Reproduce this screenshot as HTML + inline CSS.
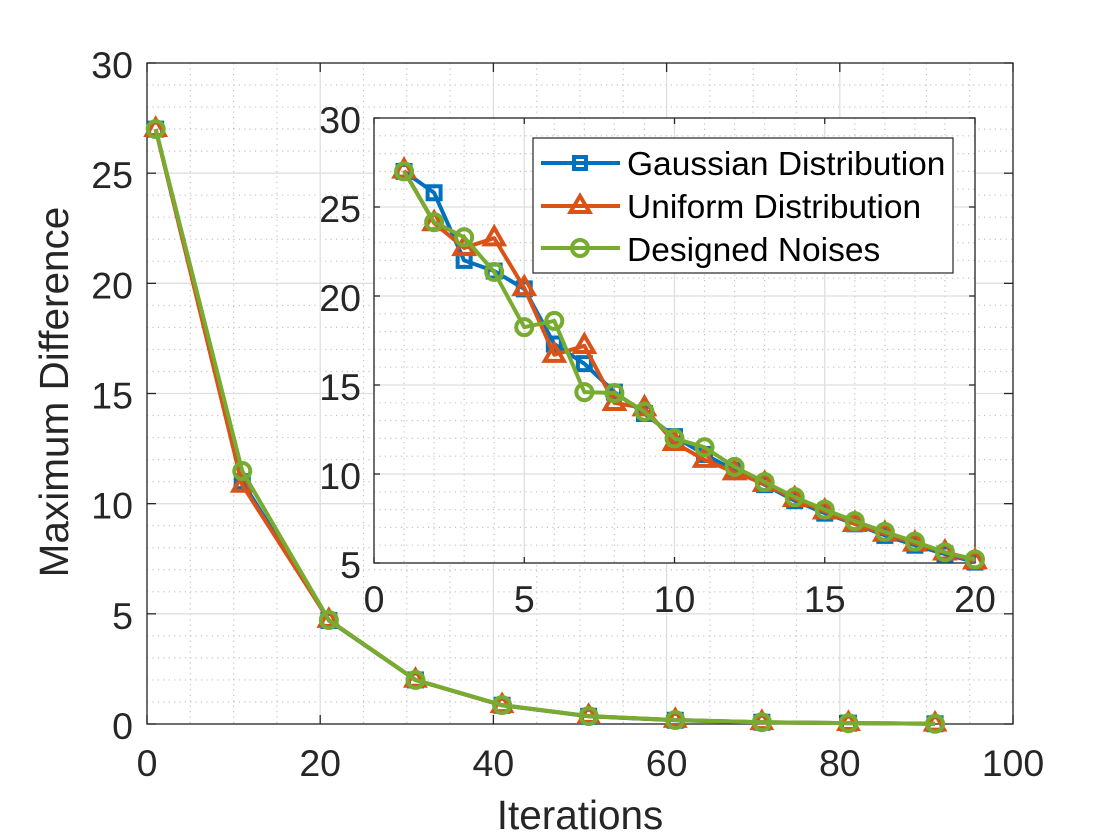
<!DOCTYPE html>
<html>
<head>
<meta charset="utf-8">
<title>Maximum Difference vs Iterations</title>
<style>
html,body{margin:0;padding:0;background:#fff;}
svg{display:block;font-family:"Liberation Sans",Arial,sans-serif;}
</style>
</head>
<body>
<svg id="chart" xmlns="http://www.w3.org/2000/svg" width="1120" height="840" viewBox="0 0 1120 840">
<rect width="1120" height="840" fill="#fff"/>
<g id="main-layer"></g>
<g id="inset-layer"></g>
<text x="580" y="829" font-size="40.500" fill="#262626" text-anchor="middle">Iterations</text>
<text transform="translate(68,392) rotate(-90)" font-size="40.500" fill="#262626" text-anchor="middle">Maximum Difference</text>
<g>
  <rect x="533" y="138" width="420" height="135" fill="#fff" stroke="#262626" stroke-width="1.2"/>
  <g>
    <line x1="541" y1="163" x2="620" y2="163" stroke="#0072BD" stroke-width="4"/>
    <rect x="574" y="157" width="12" height="12" fill="none" stroke="#0072BD" stroke-width="4"/>
    <text x="627" y="175" font-size="33.500" fill="#000">Gaussian Distribution</text>
  </g>
  <g>
    <line x1="541" y1="206" x2="620" y2="206" stroke="#D95319" stroke-width="4"/>
    <polygon points="580,196 570.500,212 589.500,212" fill="none" stroke="#D95319" stroke-width="4"/>
    <text x="627" y="218" font-size="33.500" fill="#000">Uniform Distribution</text>
  </g>
  <g>
    <line x1="541" y1="248" x2="620" y2="248" stroke="#77AC30" stroke-width="4"/>
    <circle cx="580" cy="248" r="8" fill="none" stroke="#77AC30" stroke-width="4"/>
    <text x="627" y="261" font-size="33.500" fill="#000">Designed Noises</text>
  </g>
</g>
</svg>
<script>
var mainIterations = [1, 11, 21, 31, 41, 51, 61, 71, 81, 91];
var mainGaussian = [27, 11.0, 4.7, 2.0, 0.85, 0.35, 0.17, 0.08, 0.04, 0.01];
var mainUniform = [27, 10.85, 4.72, 2.0, 0.85, 0.36, 0.18, 0.08, 0.04, 0.01];
var mainDesigned = [27, 11.48, 4.72, 2.0, 0.86, 0.36, 0.18, 0.08, 0.04, 0.01];
var mainXTicks = [0, 20, 40, 60, 80, 100];
var mainYTicks = [0, 5, 10, 15, 20, 25, 30];

var insetIterations = [1, 2, 3, 4, 5, 6, 7, 8, 9, 10, 11, 12, 13, 14, 15, 16, 17, 18, 19, 20];
var insetGaussian = [27, 25.8, 22, 21.4, 20.4, 17.3, 16.2, 14.6, 13.4, 12.1, 11.1, 10.2, 9.4, 8.5, 7.8, 7.2, 6.55, 6.0, 5.5, 5.05];
var insetUniform = [27.05, 24.1, 22.7, 23.25, 20.45, 16.7, 17.2, 14, 13.7, 11.75, 10.8, 10.1, 9.45, 8.6, 7.9, 7.2, 6.65, 6.1, 5.6, 5.1];
var insetDesigned = [27, 24.15, 23.3, 21.35, 18.25, 18.6, 14.6, 14.55, 13.5, 12, 11.5, 10.4, 9.55, 8.7, 8.0, 7.35, 6.75, 6.2, 5.6, 5.2];
var insetXTicks = [0, 5, 10, 15, 20];
var insetYTicks = [5, 10, 15, 20, 25, 30];

var SVGNS = 'http://www.w3.org/2000/svg';
var BLUE = '#0072BD', ORANGE = '#D95319', GREEN = '#77AC30';

function mk(parent, tag, attrs) {
  var el = document.createElementNS(SVGNS, tag);
  for (var k in attrs) el.setAttribute(k, attrs[k]);
  parent.appendChild(el);
  return el;
}

function drawAxes(layer, box, xDom, yDom, xTicks, yTicks, xMinorStep, yMinorStep, cfg) {
  var sx = function (v) { return box.l + (v - xDom[0]) / (xDom[1] - xDom[0]) * (box.r - box.l); };
  var sy = function (v) { return box.b - (v - yDom[0]) / (yDom[1] - yDom[0]) * (box.b - box.t); };

  var face = mk(layer, 'rect', {x: box.l, y: box.t, width: box.r - box.l, height: box.b - box.t, fill: '#fff'});
  
  

  var minorGrid = mk(layer, 'g', {stroke: '#c4c4c4', 'stroke-width': 1.2, 'stroke-dasharray': '1.2 4.2'});
  
  
  var v;
  for (v = xDom[0] + xMinorStep; v < xDom[1]; v += xMinorStep) {
    if (xTicks.indexOf(v) < 0) mk(minorGrid, 'line', {x1: sx(v), x2: sx(v), y1: box.t, y2: box.b});
  }
  for (v = yDom[0] + yMinorStep; v < yDom[1]; v += yMinorStep) {
    if (yTicks.indexOf(v) < 0) mk(minorGrid, 'line', {x1: box.l, x2: box.r, y1: sy(v), y2: sy(v)});
  }

  var majorGrid = mk(layer, 'g', {stroke: '#dfdfdf', 'stroke-width': 1.3});
  
  
  xTicks.forEach(function (t) { mk(majorGrid, 'line', {x1: sx(t), x2: sx(t), y1: box.t, y2: box.b}); });
  yTicks.forEach(function (t) { mk(majorGrid, 'line', {x1: box.l, x2: box.r, y1: sy(t), y2: sy(t)}); });

  var frame = mk(layer, 'g', {stroke: '#262626', 'stroke-width': 1.3, fill: 'none'});
  
  
  mk(frame, 'rect', {x: box.l, y: box.t, width: box.r - box.l, height: box.b - box.t});
  xTicks.forEach(function (t) {
    mk(frame, 'line', {x1: sx(t), x2: sx(t), y1: box.b, y2: box.b - cfg.tick});
    mk(frame, 'line', {x1: sx(t), x2: sx(t), y1: box.t, y2: box.t + cfg.tick});
  });
  yTicks.forEach(function (t) {
    mk(frame, 'line', {x1: box.l, x2: box.l + cfg.tick, y1: sy(t), y2: sy(t)});
    mk(frame, 'line', {x1: box.r, x2: box.r - cfg.tick, y1: sy(t), y2: sy(t)});
  });

  xTicks.forEach(function (t) {
    var lab = mk(layer, 'text', {x: sx(t), y: box.b + cfg.xLabelDy, 'font-size': cfg.font, fill: '#262626', 'text-anchor': 'middle'});
    lab.textContent = String(t);
    
    
  });
  yTicks.forEach(function (t) {
    var lab = mk(layer, 'text', {x: box.l - cfg.yLabelDx, y: sy(t) + 15, 'font-size': cfg.font, fill: '#262626', 'text-anchor': 'end'});
    lab.textContent = String(t);
    
    
  });
  return {sx: sx, sy: sy};
}

function drawSeries(layer, scale, xs, ys, color, marker, seriesName, m) {
  var g = mk(layer, 'g', {fill: 'none', stroke: color, 'stroke-width': m.sw, 'stroke-linejoin': 'miter'});
  
  
  var pts = xs.map(function (x, i) { return scale.sx(x) + ',' + scale.sy(ys[i]); }).join(' ');
  mk(g, 'polyline', {points: pts, 'stroke-linejoin': 'round'});
  xs.forEach(function (x, i) {
    var cx = scale.sx(x), cy = scale.sy(ys[i]), el;
    if (marker === 'square') {
      el = mk(g, 'rect', {x: cx - m.s, y: cy - m.s, width: 2 * m.s, height: 2 * m.s});
    } else if (marker === 'triangle') {
      el = mk(g, 'polygon', {points: cx + ',' + (cy - m.t * 1.1) + ' ' + (cx - m.t) + ',' + (cy + m.t * 0.65) + ' ' + (cx + m.t) + ',' + (cy + m.t * 0.65)});
    } else {
      el = mk(g, 'circle', {cx: cx, cy: cy, r: m.c});
    }
    
    
  });
}

var mainLayer = document.getElementById('main-layer');
var insetLayer = document.getElementById('inset-layer');

var mainScale = drawAxes(mainLayer, {l: 147, r: 1013, t: 63, b: 724}, [0, 100], [0, 30], mainXTicks, mainYTicks, 5, 1,
  {tick: 9, font: 37.5, xLabelDy: 52, yLabelDx: 14});
var mainMarker = {sw: 4, s: 6.5, t: 9, c: 8};
drawSeries(mainLayer, mainScale, mainIterations, mainGaussian, BLUE, 'square', 'series-gaussian-main', mainMarker);
drawSeries(mainLayer, mainScale, mainIterations, mainUniform, ORANGE, 'triangle', 'series-uniform-main', mainMarker);
drawSeries(mainLayer, mainScale, mainIterations, mainDesigned, GREEN, 'circle', 'series-designed-main', mainMarker);

var insetScale = drawAxes(insetLayer, {l: 374, r: 975, t: 118, b: 563}, [0, 20], [5, 30], insetXTicks, insetYTicks, 1, 1,
  {tick: 6, font: 37.5, xLabelDy: 49, yLabelDx: 13});
var insetMarker = {sw: 4, s: 6.5, t: 9.5, c: 8};
drawSeries(insetLayer, insetScale, insetIterations, insetGaussian, BLUE, 'square', 'series-gaussian-inset', insetMarker);
drawSeries(insetLayer, insetScale, insetIterations, insetUniform, ORANGE, 'triangle', 'series-uniform-inset', insetMarker);
drawSeries(insetLayer, insetScale, insetIterations, insetDesigned, GREEN, 'circle', 'series-designed-inset', insetMarker);
</script>
</body>
</html>
